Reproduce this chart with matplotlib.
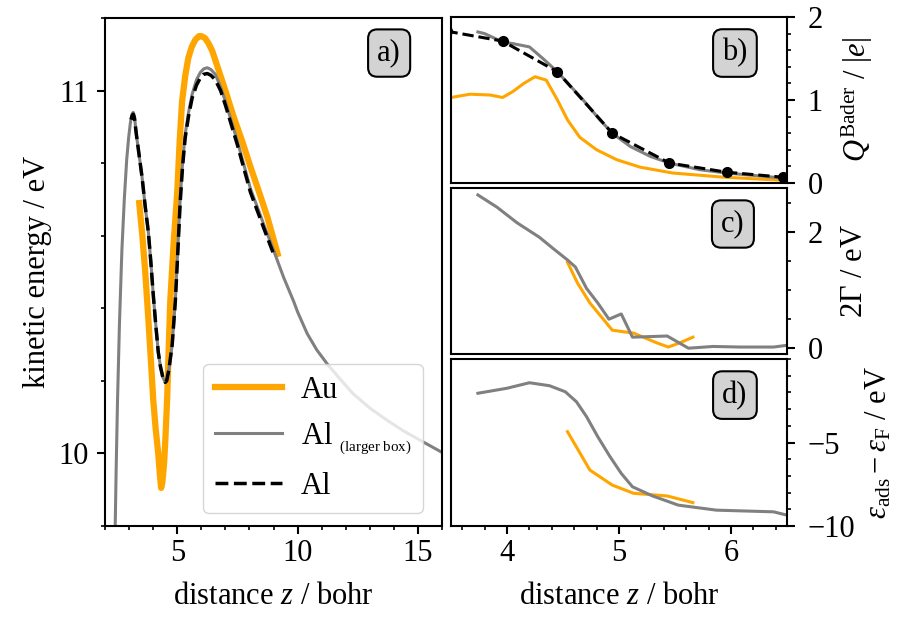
import matplotlib
matplotlib.use('Agg')
import matplotlib.pyplot as plt
from matplotlib.ticker import MultipleLocator, FixedLocator

plt.rcParams['font.family'] = ['Liberation Serif', 'DejaVu Serif']
plt.rcParams['mathtext.fontset'] = 'custom'
plt.rcParams['mathtext.rm'] = 'Liberation Serif'
plt.rcParams['mathtext.it'] = 'Liberation Serif:italic'
plt.rcParams['font.size'] = 22
plt.rcParams['axes.linewidth'] = 1.5
for a in ['xtick', 'ytick']:
    plt.rcParams[a + '.major.width'] = 1.5
    plt.rcParams[a + '.minor.width'] = 1.2
    plt.rcParams[a + '.major.size'] = 6
    plt.rcParams[a + '.minor.size'] = 3
plt.rcParams['ytick.major.pad'] = 6

# panel a) kinetic energy
z_au = [3.42, 3.55, 3.67, 3.8, 3.92, 4.0, 4.1, 4.21, 4.28, 4.33, 4.38, 4.45, 4.5, 4.58, 4.65, 4.71, 4.85, 5.0,
        5.1, 5.2, 5.33, 5.46, 5.6, 5.75, 5.9, 6.0, 6.15, 6.3, 6.45, 6.6, 6.8, 7.0, 7.33, 7.7, 8.04, 8.4, 8.75, 9.17]
e_au = [10.69, 10.60, 10.50, 10.37, 10.24, 10.15, 10.07, 10.0, 9.94, 9.905, 9.92, 9.97, 10.03, 10.15, 10.30, 10.42,
        10.58, 10.72, 10.86, 10.97, 11.04, 11.09, 11.12, 11.14, 11.15, 11.15, 11.145, 11.13, 11.11, 11.08, 11.04,
        11.0, 10.93, 10.86, 10.79, 10.72, 10.65, 10.55]

z_alb = [2.42, 2.46, 2.52, 2.6, 2.7, 2.8, 2.9, 2.98, 3.05, 3.12, 3.17, 3.22, 3.3, 3.42, 3.54, 3.67, 3.8, 3.9,
         4.0, 4.1, 4.21, 4.3, 4.4, 4.5, 4.56, 4.65, 4.79, 4.92, 5.02, 5.12, 5.22, 5.33, 5.47, 5.62, 5.8, 5.96,
         6.1, 6.25, 6.4, 6.58, 6.8, 7.0, 7.5, 8.04, 8.6, 9.0, 9.42, 9.83, 10.0, 10.4, 10.8, 11.25, 11.7, 12.3,
         13.0, 13.75, 14.4, 15.1, 16.08]
e_alb = [9.79, 9.95, 10.15, 10.36, 10.56, 10.70, 10.81, 10.87, 10.91, 10.935, 10.94, 10.93, 10.88, 10.82, 10.76,
         10.68, 10.61, 10.53, 10.44, 10.36, 10.28, 10.24, 10.21, 10.196, 10.20, 10.23, 10.30, 10.42, 10.56, 10.70,
         10.80, 10.88, 10.94, 10.99, 11.03, 11.05, 11.06, 11.063, 11.058, 11.045, 11.01, 10.97, 10.86, 10.73,
         10.63, 10.56, 10.485, 10.42, 10.39, 10.33, 10.285, 10.245, 10.21, 10.165, 10.125, 10.09, 10.062, 10.036,
         10.0]

z_al = [3.08, 3.12, 3.17, 3.22, 3.3, 3.42, 3.54, 3.67, 3.8, 3.9, 4.0, 4.1, 4.21, 4.3, 4.4, 4.5, 4.56, 4.65, 4.79,
        4.92, 5.02, 5.12, 5.22, 5.33, 5.47, 5.62, 5.8, 5.96, 6.1, 6.25, 6.4, 6.58, 6.8, 7.0, 7.5, 8.04, 8.6, 9.0]
e_al = [10.92, 10.93, 10.935, 10.925, 10.88, 10.82, 10.76, 10.68, 10.61, 10.53, 10.44, 10.36, 10.28, 10.24, 10.21,
        10.196, 10.20, 10.23, 10.30, 10.42, 10.55, 10.69, 10.79, 10.87, 10.93, 10.98, 11.015, 11.035, 11.045,
        11.047, 11.042, 11.03, 11.0, 10.96, 10.85, 10.72, 10.62, 10.55]

# panel b) Bader charge
zb_au = [3.5, 3.67, 3.85, 3.96, 4.05, 4.15, 4.25, 4.35, 4.45, 4.54, 4.65, 4.8, 4.98, 5.19, 5.48, 5.93, 6.5]
qb_au = [1.03, 1.07, 1.06, 1.03, 1.10, 1.20, 1.28, 1.24, 1.0, 0.76, 0.55, 0.40, 0.28, 0.19, 0.12, 0.07, 0.03]
zb_alb = [3.74, 3.80, 3.96, 4.05, 4.2, 4.32, 4.45, 4.68, 4.83, 4.94, 5.1, 5.28, 5.45, 5.72, 5.96, 6.46]
qb_alb = [1.82, 1.80, 1.70, 1.68, 1.64, 1.50, 1.34, 1.0, 0.76, 0.60, 0.44, 0.32, 0.24, 0.16, 0.12, 0.06]
zb_al = [3.46, 3.96, 4.45, 4.94, 5.45, 5.96, 6.46]
qb_al = [1.83, 1.71, 1.34, 0.60, 0.24, 0.13, 0.07]

# panel c) level width
zc_au = [4.54, 4.63, 4.74, 4.94, 5.13, 5.34, 5.44, 5.54, 5.66]
gc_au = [1.48, 1.12, 0.78, 0.31, 0.26, 0.09, 0.02, 0.09, 0.19]
zc_alb = [3.74, 3.91, 4.09, 4.29, 4.41, 4.54, 4.61, 4.71, 4.81, 4.91, 5.02, 5.12, 5.43, 5.62, 5.84, 6.08, 6.38, 6.5]
gc_alb = [2.64, 2.43, 2.16, 1.91, 1.72, 1.52, 1.40, 1.03, 0.78, 0.50, 0.59, 0.19, 0.21, 0.0, 0.03, 0.02, 0.02, 0.05]

# panel d) level position
zd_au = [4.54, 4.74, 4.94, 5.13, 5.43, 5.66]
ed_au = [-4.35, -6.65, -7.55, -8.04, -8.2, -8.6]
zd_alb = [3.74, 4.0, 4.2, 4.38, 4.52, 4.62, 4.71, 4.81, 4.92, 5.02, 5.12, 5.3, 5.53, 5.87, 6.38, 6.5]
ed_alb = [-2.05, -1.75, -1.42, -1.6, -1.96, -2.56, -3.45, -4.65, -5.85, -6.85, -7.65, -8.2, -8.75, -9.05, -9.15, -9.35]

orange = '#ffa500'
gray = '#808080'

fig = plt.figure(figsize=(8.97, 6.19), dpi=100)
ax_a = fig.add_axes([0.1171, 0.1502, 0.3757, 0.8207])
ax_b = fig.add_axes([0.5028, 0.7044, 0.3746, 0.2681])
ax_c = fig.add_axes([0.5028, 0.4281, 0.3746, 0.2682])
ax_d = fig.add_axes([0.5028, 0.1502, 0.3746, 0.2698])

box = dict(boxstyle='round,pad=0.3', fc='lightgray', ec='black', lw=1.5)

ax_a.plot(z_au, e_au, color=orange, lw=4.5, label='Au')
ax_a.plot(z_alb, e_alb, color=gray, lw=2.2, label='Al $_{_{\\mathrm{(larger\\ box)}}}$')
ax_a.plot(z_al, e_al, color='black', lw=2.5, ls='--', label='Al')
ax_a.set_xlim(2, 16)
ax_a.set_ylim(9.8, 11.2)
ax_a.xaxis.set_major_locator(MultipleLocator(5))
ax_a.xaxis.set_minor_locator(MultipleLocator(1))
ax_a.yaxis.set_major_locator(MultipleLocator(1))
ax_a.yaxis.set_minor_locator(MultipleLocator(0.2))
ax_a.set_xlabel('distance $z$ / bohr', labelpad=10)
ax_a.set_ylabel('kinetic energy / eV')
ax_a.text(0.843, 0.931, 'a)', transform=ax_a.transAxes, ha='center', va='center', bbox=box)
ax_a.legend(loc='lower right', bbox_to_anchor=(0.99, -0.005), handlelength=2.2, handletextpad=0.6,
            fontsize=22)

ax_b.plot(zb_au, qb_au, color=orange, lw=2.2)
ax_b.plot(zb_alb, qb_alb, color=gray, lw=2.2)
ax_b.plot(zb_al, qb_al, color='black', lw=2.2, ls='--', marker='o', ms=7)
ax_b.set_ylim(0, 2)
ax_b.yaxis.set_major_locator(MultipleLocator(1))
ax_b.yaxis.set_minor_locator(MultipleLocator(0.2))
ax_b.set_ylabel('$Q^{\\mathrm{Bader}}$ / $|e|$', labelpad=10)
ax_b.text(0.845, 0.783, 'b)', transform=ax_b.transAxes, ha='center', va='center', bbox=box)

ax_c.plot(zc_au, gc_au, color=orange, lw=2.2)
ax_c.plot(zc_alb, gc_alb, color=gray, lw=2.2)
ax_c.set_ylim(-0.1, 2.76)
ax_c.yaxis.set_major_locator(FixedLocator([0, 2]))
ax_c.yaxis.set_minor_locator(MultipleLocator(0.5))
ax_c.set_ylabel('$2\\Gamma$ / eV', labelpad=12)
ax_c.text(0.839, 0.783, 'c)', transform=ax_c.transAxes, ha='center', va='center', bbox=box)

ax_d.plot(zd_au, ed_au, color=orange, lw=2.2)
ax_d.plot(zd_alb, ed_alb, color=gray, lw=2.2)
ax_d.set_ylim(-10, 0)
ax_d.yaxis.set_major_locator(FixedLocator([-10, -5]))
ax_d.yaxis.set_minor_locator(MultipleLocator(1))
ax_d.set_ylabel('$\\varepsilon_{\\mathrm{ads}} - \\varepsilon_{\\mathrm{F}}$ / eV', labelpad=6)
ax_d.set_xlabel('distance $z$ / bohr', labelpad=10)
ax_d.text(0.845, 0.784, 'd)', transform=ax_d.transAxes, ha='center', va='center', bbox=box)

for ax in [ax_b, ax_c, ax_d]:
    ax.set_xlim(3.5, 6.5)
    ax.xaxis.set_major_locator(MultipleLocator(1))
    ax.xaxis.set_minor_locator(MultipleLocator(0.2))
    ax.yaxis.tick_right()
    ax.yaxis.set_label_position('right')
    ax.tick_params(which='both', left=False, right=True)
    ax.tick_params(axis='y', which='major', pad=9)
for ax in [ax_b, ax_c]:
    ax.tick_params(which='both', bottom=False, labelbottom=False)

fig.savefig('out.png', dpi=100)
